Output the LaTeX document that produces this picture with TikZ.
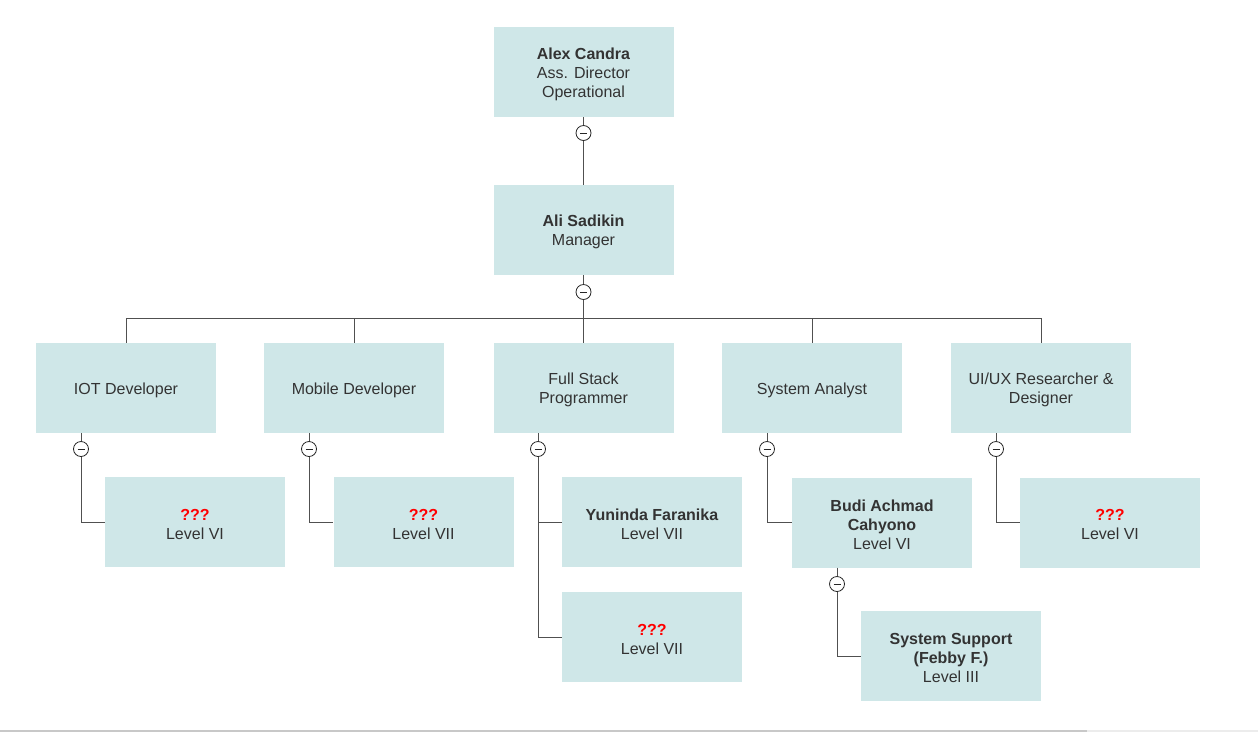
\documentclass[tikz,border=0pt]{standalone}
\usepackage{fontspec}
\setmainfont{Liberation Sans}
\usetikzlibrary{calc}
\definecolor{boxfill}{RGB}{207,231,232}
\definecolor{txt}{RGB}{51,51,51}
\definecolor{edge}{RGB}{80,80,80}
\definecolor{qred}{RGB}{255,0,0}
\definecolor{sbar}{RGB}{200,200,200}
\definecolor{sbarlight}{RGB}{236,236,236}
\tikzset{
  box/.style={fill=boxfill, draw=none, minimum width=180pt, minimum height=90pt,
    inner sep=0pt},
  boxtext/.style={align=center, text=txt, font=\fontsize{16}{19}\selectfont,
    inner sep=0pt, yshift=-2pt},
  tog/.style={circle, draw=black!85, fill=white, minimum size=15pt, inner sep=0pt,
    line width=0.8pt,
    path picture={\draw[black!85, line width=1pt]
      ($(path picture bounding box.center)+(-3.5pt,0)$) -- ++(7pt,0);}},
  conn/.style={draw=edge, line width=0.9pt},
}
\newcommand{\qq}{{\color{qred}\textbf{???}}}
\newcommand{\bx}[3]{%
  \node[box] (#1) at (#2) {};
  \node[boxtext] (#1-t) at (#1.center) {#3};}
\begin{document}
\begin{tikzpicture}[x=1pt,y=-1pt]
\useasboundingbox (0,0) rectangle (1258,732);
\fill[white] (0,0) rectangle (1258,732);
% scrollbar at bottom
\fill[sbar] (0,730) rectangle (1087,732);
\fill[sbarlight] (1087,730) rectangle (1258,732);

% boxes
\bx{alex}{583.5,72}{\textbf{Alex Candra}\\Ass. Director\\Operational}
\bx{ali}{583.5,230}{\textbf{Ali Sadikin}\\Manager}
\bx{iot}{126,388}{IOT Developer}
\bx{mob}{354,388}{Mobile Developer}
\bx{fsp}{583.5,388}{Full Stack\\Programmer}
\bx{sa}{812,388}{System Analyst}
\bx{ux}{1041,388}{UI/UX Researcher \&\\Designer}
\bx{iotc}{195,522}{\qq\\Level VI}
\bx{mobc}{423.5,522}{\qq\\Level VII}
\bx{yun}{652,522}{\textbf{Yuninda Faranika}\\Level VII}
\bx{fspc}{652,637}{\qq\\Level VII}
\bx{budi}{882,522.5}{\textbf{Budi Achmad}\\\textbf{Cahyono}\\Level VI}
\bx{uxc}{1110,522.5}{\qq\\Level VI}
\bx{sup}{951,656}{\textbf{System Support}\\\textbf{(Febby F.)}\\Level III}

% toggles (positions only)
\coordinate (t1) at (583.5,133);
\coordinate (t2) at (583.5,292);
\coordinate (t3) at (81,449);
\coordinate (t4) at (309,449);
\coordinate (t5) at (538,449);
\coordinate (t6) at (767,449);
\coordinate (t7) at (996,449);
\coordinate (t8) at (837,584);
\coordinate (bus) at (583.5,318);

% connectors
\draw[conn] (alex.south) -- (ali.north);
\draw[conn] (ali.south) -- (bus);
\draw[conn] (bus -| iot) -- (bus -| ux);
\foreach \n in {iot,mob,fsp,sa,ux} \draw[conn] (bus -| \n) -- (\n.north);
\draw[conn] (iot.south -| t3) -- (t3 |- iotc.west) -- (iotc.west);
\draw[conn] (mob.south -| t4) -- (t4 |- mobc.west) -- (mobc.west);
\draw[conn] (fsp.south -| t5) -- (t5 |- fspc.west) -- (fspc.west);
\draw[conn] (t5 |- yun.west) -- (yun.west);
\draw[conn] (sa.south -| t6) -- (t6 |- budi.west) -- (budi.west);
\draw[conn] (ux.south -| t7) -- (t7 |- uxc.west) -- (uxc.west);
\draw[conn] (budi.south -| t8) -- (t8 |- sup.west) -- (sup.west);

% toggle circles
\foreach \t in {t1,t2,t3,t4,t5,t6,t7,t8} \node[tog] (c\t) at (\t) {};
\end{tikzpicture}
\end{document}
